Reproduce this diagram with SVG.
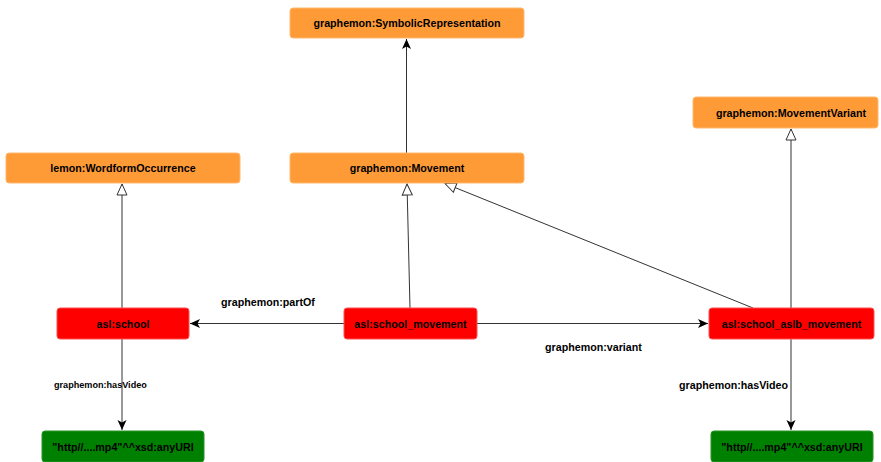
<svg xmlns="http://www.w3.org/2000/svg" width="881" height="462" viewBox="0 0 881 462">
<style>
text{font-family:"Liberation Sans",Arial,sans-serif;font-weight:bold;fill:#000}
.n{font-size:10.7px;text-anchor:middle}
.o{fill:#FF9B37;stroke:#FFB870;stroke-width:1}
.r{fill:#FF0000;stroke:#FF5050;stroke-width:1}
.g{fill:#008000;stroke:#2A942A;stroke-width:1}
.e{stroke:#333;stroke-width:1;fill:none}
.l{font-size:10.7px}
</style>
<defs>
<marker id="tri" markerWidth="14" markerHeight="14" refX="12" refY="6.5" orient="auto" markerUnits="userSpaceOnUse">
<path d="M1,1.5 L12,6.5 L1,11.5 Z" fill="#fff" stroke="#333" stroke-width="1"/>
</marker>
<marker id="arr" markerWidth="12" markerHeight="12" refX="10" refY="5" orient="auto" markerUnits="userSpaceOnUse">
<path d="M0,0.5 L10,5 L0,9.5 L2.5,5 Z" fill="#000"/>
</marker>
</defs>
<g id="edges">
<line class="e" x1="406.5" y1="153" x2="406.5" y2="39" marker-end="url(#arr)"/>
<line class="e" x1="122" y1="308" x2="122" y2="184" marker-end="url(#tri)"/>
<line class="e" x1="410" y1="308" x2="407" y2="184" marker-end="url(#tri)"/>
<line class="e" x1="753" y1="308" x2="445" y2="183.5" marker-end="url(#tri)"/>
<line class="e" x1="791" y1="308" x2="791" y2="129" marker-end="url(#tri)"/>
<line class="e" x1="344" y1="323.5" x2="190" y2="323.5" marker-end="url(#arr)"/>
<line class="e" x1="477" y1="323.5" x2="708" y2="323.5" marker-end="url(#arr)"/>
<line class="e" x1="122" y1="339" x2="122" y2="430" marker-end="url(#arr)"/>
<line class="e" x1="791" y1="339" x2="791" y2="430" marker-end="url(#arr)"/>
<text class="l" x="221" y="305.5">graphemon:partOf</text>
<text class="l" x="545" y="350.5">graphemon:variant</text>
<text style="font-size:9.1px" x="54" y="388">graphemon:hasVideo</text>
<text class="l" x="679" y="389">graphemon:hasVideo</text>
</g>
<g id="symrep"><rect class="o" x="290" y="8" width="234" height="30" rx="3"/><text class="n" x="407" y="27">graphemon:SymbolicRepresentation</text></g>
<g id="wordform"><rect class="o" x="6" y="153" width="234" height="30" rx="3"/><text class="n" x="123" y="172">lemon:WordformOccurrence</text></g>
<g id="movement"><rect class="o" x="290" y="153" width="234" height="30" rx="3"/><text class="n" x="407" y="172">graphemon:Movement</text></g>
<g id="movvariant"><rect class="o" x="693" y="97" width="185" height="31" rx="3"/><text class="n" x="791" y="116.5">graphemon:MovementVariant</text></g>
<g id="school"><rect class="r" x="57" y="308" width="132" height="31" rx="3"/><text class="n" x="123" y="327.5">asl:school</text></g>
<g id="schoolmov"><rect class="r" x="344" y="308" width="133" height="31" rx="3"/><text class="n" x="410.5" y="327.5">asl:school_movement</text></g>
<g id="aslbmov"><rect class="r" x="709" y="308" width="165" height="31" rx="3"/><text class="n" x="791.5" y="327.5">asl:school_aslb_movement</text></g>
<g id="video1"><rect class="g" x="42" y="431" width="162" height="31" rx="3"/><text class="n" x="123" y="450.5">"http//....mp4"^^xsd:anyURI</text></g>
<g id="video2"><rect class="g" x="711" y="431" width="162" height="31" rx="3"/><text class="n" x="792" y="450.5">"http//....mp4"^^xsd:anyURI</text></g>
</svg>
